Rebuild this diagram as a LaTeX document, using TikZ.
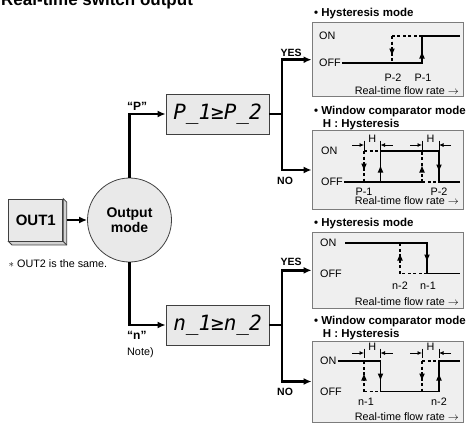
\documentclass[tikz,border=0pt]{standalone}
\usepackage{fontspec}
\setmainfont{Liberation Sans}
\newfontfamily\lcdfont{DejaVu Sans Mono}
\usetikzlibrary{positioning, arrows.meta, calc}
\definecolor{boxgray}{HTML}{E9E9E9}
\definecolor{panelgray}{HTML}{EFEFEF}
\definecolor{sidegray}{HTML}{D2D2D2}
\definecolor{edgegray}{HTML}{7C7C7C}

\begin{document}
\begin{tikzpicture}[x=1pt, y=-1pt, >={Latex[length=8pt,width=7pt]},
    box/.style={draw=black!75, fill=boxgray, line width=0.8pt, inner sep=0pt},
    lcd/.style={box, minimum width=103pt, minimum height=40pt, font=\lcdfont\itshape\fontsize{21}{21}\selectfont},
    gbox/.style={draw=edgegray, fill=panelgray, line width=0.9pt, minimum width=151.5pt},
    lbl/.style={font=\fontsize{10.8}{12}\selectfont, inner sep=0pt},
    blbl/.style={font=\fontsize{10.5}{12}\selectfont\bfseries, inner sep=0pt},
    ttl/.style={font=\fontsize{11.5}{13}\selectfont\bfseries, inner sep=0pt, anchor=base west},
    conn/.style={line width=2.6pt, ->},
    wire/.style={line width=2.6pt},
    trace/.style={line width=1.5pt},
    dtrace/.style={trace, dash pattern=on 3pt off 2.5pt},
    ahead/.style={-{Latex[length=7.5pt,width=6pt]}},
    hdim/.style={line width=0.8pt, -{Latex[length=4.5pt,width=4pt]}}]
  \useasboundingbox (0,0) rectangle (466,424);
  \node[anchor=base west, inner sep=0pt, font=\fontsize{17}{17}\selectfont\bfseries] (title) at (1,5.5) {Real-time switch output};

  % left part
  \node[box, minimum width=54pt, minimum height=42pt, font=\fontsize{15}{15}\selectfont\bfseries] (out1) at (35.8,220) {OUT1};
  \draw[box, fill=sidegray] (out1.north east) -- ++(3.5,3.5) -- ([shift={(3.5,3.5)}]out1.south east)
    -- ([shift={(3.5,3.5)}]out1.south west) -- (out1.south west) -- (out1.south east) -- cycle;
  \draw[line width=0.8pt, draw=black!75] (out1.south east) -- ++(3.5,3.5);
  \node[box, circle, minimum size=84pt, align=center, font=\fontsize{14}{15}\selectfont\bfseries] (mode) at (129.5,220) {Output\\mode};
  \node[lbl, anchor=west] (same) at (8.5,263.3) {$\ast$ OUT2 is the same.};
  \draw[conn] ([xshift=3.5pt]out1.east) -- (mode);

  \node[lcd] (pbox) at (217.5,114) {P\_1≥P\_2};
  \node[lcd] (nbox) at (217.5,325) {n\_1≥n\_2};
  \draw[conn] (mode.north) |- (pbox);
  \draw[conn] (mode.south) |- (nbox);
  \node[blbl, font=\fontsize{12}{12}\selectfont\bfseries, anchor=west] (qp) at (127,106) {“P”};
  \node[blbl, font=\fontsize{12}{12}\selectfont\bfseries, anchor=west] (qn) at (127,335.5) {“n”};
  \node[lbl, anchor=west] (note) at (127,352.3) {Note)};

  % panels
  \node[gbox, minimum height=74pt] (hysP) at (387.75,59.7) {};
  \node[gbox, minimum height=79pt] (winP) at (387.75,170) {};
  \node[gbox, minimum height=75.3pt] (hysN) at (387.75,270.35) {};
  \node[gbox, minimum height=81pt] (winN) at (387.75,381.5) {};
  \node[ttl] (tHysP) at (314,16) {• Hysteresis mode};
  \node[ttl] (tWinP) at (314,114) {• Window comparator mode};
  \node[ttl] (tHP) at (322.7,127) {H : Hysteresis};
  \node[ttl] (tHysN) at (314,226) {• Hysteresis mode};
  \node[ttl] (tWinN) at (314,324) {• Window comparator mode};
  \node[ttl] (tHN) at (322.7,337) {H : Hysteresis};

  \coordinate (yp) at ($(hysP.west -| pbox.east)+(12.5,0)$);
  \coordinate (np) at ($(winP.west -| pbox.east)+(12.5,0)$);
  \coordinate (yn) at ($(hysN.west -| nbox.east)+(12.5,0)$);
  \coordinate (nn) at ($(winN.west -| nbox.east)+(12.5,0)$);
  \draw[wire] (pbox.east) -- (pbox.east -| yp);
  \draw[wire, <->] (hysP.west) -- (yp) -- (np) -- (winP.west);
  \draw[wire] (nbox.east) -- (nbox.east -| yn);
  \draw[wire, <->] (hysN.west) -- (yn) -- (nn) -- (winN.west);
  \node[blbl, anchor=base west] (yesP) at (280.5,56.5) {YES};
  \node[blbl, anchor=base west] (noP) at (277,184.5) {NO};
  \node[blbl, anchor=base west] (yesN) at (280.5,265.5) {YES};
  \node[blbl, anchor=base west] (noN) at (277,395) {NO};

  % hysteresis P
  \node[lbl, anchor=west] (onA) at (319,36) {ON};
  \node[lbl, anchor=west] (offA) at (319,63) {OFF};
  \draw[trace] ([xshift=1pt]offA.east) -- (422,63) -- (422,36) -- (460,36);
  \draw[trace, ahead] (422,63) -- (422,51);
  \draw[dtrace] (422,36) -- (392,36);
  \draw[dtrace] (392,36) -- (392,63);
  \draw[dtrace, ahead] (392,36) -- (392,56);
  \node[lbl] (p2a) at (393,77.5) {P-2};
  \node[lbl] (p1a) at (423,77.5) {P-1};
  \node[lbl, anchor=east] (rtA) at (459,91) {Real-time flow rate $\rightarrow$};

  % window P
  \node[lbl, anchor=west] (onB) at (321,151) {ON};
  \node[lbl, anchor=west] (offB) at (321,182) {OFF};
  \draw[trace] ([xshift=1pt]offB.east) -- (422,182);
  \draw[trace] (380.5,182) -- (380.5,151) -- (439,151) -- (439,182) -- (460,182);
  \draw[trace, ahead] (380.5,182) -- (380.5,165);
  \draw[trace, ahead] (439,151) -- (439,172);
  \draw[dtrace] (364,151) -- (380.5,151);
  \draw[dtrace] (364,151) -- (364,182);
  \draw[dtrace, ahead] (364,151) -- (364,171);
  \draw[dtrace] (422,182) -- (439,182);
  \draw[dtrace] (422,182) -- (422,151);
  \draw[dtrace, ahead] (422,182) -- (422,165);
  \node[lbl] (p1b) at (364,191.5) {P-1};
  \node[lbl] (p2b) at (439,191.5) {P-2};
  \node[lbl, anchor=east] (rtB) at (459,201) {Real-time flow rate $\rightarrow$};

  % hysteresis n
  \node[lbl, anchor=west] (onC) at (320,243) {ON};
  \node[lbl, anchor=west] (offC) at (320,273.5) {OFF};
  \draw[trace] (345,243) -- (427,243) -- (427,273.5) -- (460,273.5);
  \draw[trace, ahead] (427,243) -- (427,262);
  \draw[dtrace] (427,273.5) -- (400,273.5);
  \draw[dtrace] (400,273.5) -- (400,243);
  \draw[dtrace, ahead] (400,273.5) -- (400,253);
  \node[lbl] (n2c) at (400,286) {n-2};
  \node[lbl] (n1c) at (428,286) {n-1};
  \node[lbl, anchor=east] (rtC) at (459,301.7) {Real-time flow rate $\rightarrow$};

  % window n
  \node[lbl, anchor=west] (onD) at (320,361) {ON};
  \node[lbl, anchor=west] (offD) at (320,391.5) {OFF};
  \draw[trace] ([xshift=1pt]onD.east) -- (380.5,361) -- (380.5,391.5) -- (439,391.5) -- (439,361) -- (460,361);
  \draw[trace, ahead] (380.5,361) -- (380.5,381);
  \draw[trace, ahead] (439,391.5) -- (439,373);
  \draw[dtrace] (364,391.5) -- (380.5,391.5);
  \draw[dtrace] (364,391.5) -- (364,361);
  \draw[dtrace, ahead] (364,391.5) -- (364,373);
  \draw[dtrace] (422,361) -- (439,361);
  \draw[dtrace] (422,361) -- (422,391.5);
  \draw[dtrace, ahead] (422,361) -- (422,381);
  \node[lbl] (n1d) at (366,401.3) {n-1};
  \node[lbl] (n2d) at (439,401.3) {n-2};
  \node[lbl, anchor=east] (rtD) at (459,416.5) {Real-time flow rate $\rightarrow$};

  % H marks
  \foreach \g/\y in {P/145, N/353}
    \foreach \a/\b in {364/380.5, 422/439} {
      \draw[line width=0.8pt] (\a,\y-4.5) -- (\a,\y+4.5) (\b,\y-4.5) -- (\b,\y+4.5);
      \draw[hdim] (\a-12,\y) -- (\a,\y);
      \draw[hdim] (\b+12,\y) -- (\b,\y);
      \node[lbl] (h\g\a) at ({(\a+\b)/2},\y-6) {H};
    }
\end{tikzpicture}
\end{document}
